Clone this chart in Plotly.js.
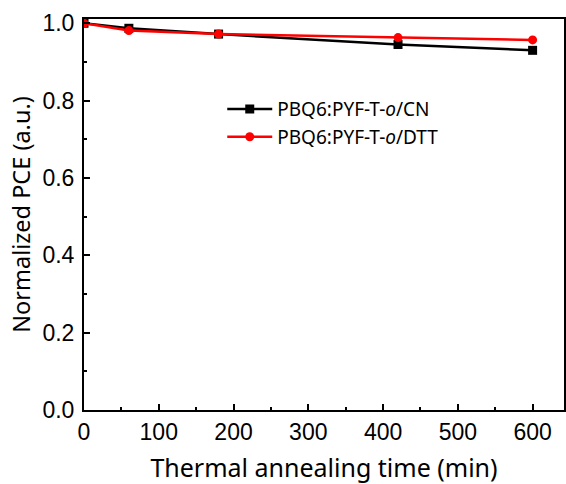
<!DOCTYPE html>
<html>
<head>
<meta charset="utf-8">
<script src="https://cdn.plot.ly/plotly-3.0.1.min.js"></script>
<style>html,body{margin:0;padding:0;background:#fff;}#chart{width:566px;height:484px;}</style>
</head>
<body>
<div id="chart"></div>
<script>
var timeMin = [0, 60, 180, 420, 600];
var pceCN = [1.0, 0.987, 0.972, 0.945, 0.930];
var pceDTT = [1.0, 0.981, 0.972, 0.963, 0.957];
var seriesNames = ['PBQ6:PYF-T-<i>o</i>/CN', 'PBQ6:PYF-T-<i>o</i>/DTT'];
var xTitle = 'Thermal annealing time (min)';
var yTitle = 'Normalized PCE (a.u.)';

var font = 'Liberation Sans, Arial, sans-serif';
var tfont = 'Noto Sans, sans-serif';
var traces = [
  {x: timeMin, y: pceCN, name: seriesNames[0], type: 'scatter', mode: 'lines+markers',
   line: {color: '#000000', width: 2.5}, marker: {symbol: 'square', size: 9, color: '#000000'}},
  {x: timeMin, y: pceDTT, name: seriesNames[1], type: 'scatter', mode: 'lines+markers',
   line: {color: '#ff0000', width: 2.5}, marker: {symbol: 'circle', size: 9, color: '#ff0000'}}
];
var axisCommon = {
  showgrid: false, zeroline: false, showline: true, linecolor: '#000', linewidth: 2,
  mirror: true, ticks: 'inside', ticklen: 6, tickwidth: 2, tickcolor: '#000',
  tickfont: {family: font, size: 23, color: '#000'}
};
var layout = {
  width: 566, height: 484,
  margin: {l: 84, r: 2, t: 19, b: 74},
  paper_bgcolor: '#fff', plot_bgcolor: '#fff',
  showlegend: true,
  legend: {x: 0.288, y: 0.818, xanchor: 'left', yanchor: 'top', bgcolor: 'rgba(0,0,0,0)',
           itemwidth: 45,
           font: {family: tfont, size: 19, color: '#000'}, tracegroupgap: 0},
  xaxis: Object.assign({}, axisCommon, {
    range: [0, 642], tickvals: [0, 100, 200, 300, 400, 500, 600],
    minor: {dtick: 50, tick0: 0, ticks: 'inside', ticklen: 3, tickwidth: 2, tickcolor: '#000'},
    title: {text: xTitle, font: {family: tfont, size: 25, color: '#000'}, standoff: 18}
  }),
  yaxis: Object.assign({}, axisCommon, {
    range: [0, 1.011], tickvals: [0, 0.2, 0.4, 0.6, 0.8, 1.0], tickformat: '.1f',
    ticklabelstandoff: 3,
    minor: {dtick: 0.1, tick0: 0, ticks: 'inside', ticklen: 3, tickwidth: 2, tickcolor: '#000'},
    title: {text: yTitle, font: {family: tfont, size: 23.5, color: '#000'}, standoff: 5}
  })
};
Plotly.newPlot('chart', traces, layout, {displayModeBar: false, staticPlot: true});
</script>
</body>
</html>
